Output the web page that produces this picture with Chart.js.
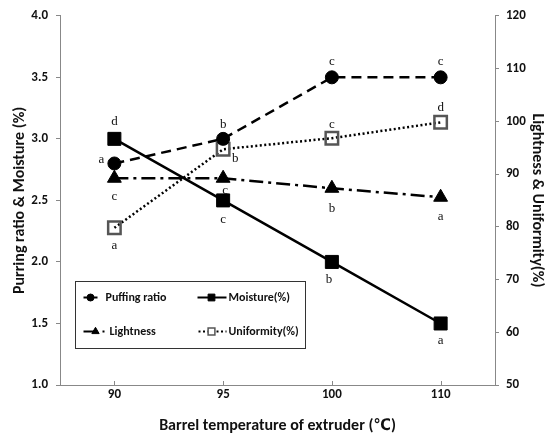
<!DOCTYPE html>
<html>
<head>
<meta charset="utf-8">
<script src="https://cdn.jsdelivr.net/npm/chart.js@4.4.1/dist/chart.umd.min.js"></script>
<style>
html,body{margin:0;padding:0;background:#fff;}
#wrap{width:556px;height:436px;}
</style>
</head>
<body>
<div id="wrap"><canvas id="c" width="556" height="436"></canvas></div>
<script>
// ---- data ----
const categories = ['90', '95', '100', '110'];
const puffingRatio = [2.8, 3.0, 3.5, 3.5];
const moisture = [3.0, 2.5, 2.0, 1.5];
const lightness = [89.2, 89.2, 87.3, 85.6];
const uniformity = [79.8, 94.7, 96.8, 99.8];
const puffingLetters = ['a', 'b', 'c', 'c'];
const moistureLetters = ['d', 'c', 'b', 'a'];
const lightnessLetters = ['c', 'c', 'b', 'a'];
const uniformityLetters = ['a', 'b', 'c', 'd'];
const seriesNames = ['Puffing ratio', 'Moisture(%)', 'Lightness', 'Uniformity(%)'];
const leftTitle = 'Purring ratio & Moisture (%)';
const rightTitle = 'Lightness & Uniformity(%)';
const xTitle = 'Barrel temperature of extruder (\u2103)';

// ---- styles / layout ----
const FONT = "Carlito, 'Liberation Sans Narrow', 'DejaVu Sans Condensed', 'Noto Sans CJK KR', sans-serif";
const letterOffsets = [
  [[-13,-4],[0,-14],[0,-16],[0,-16]],
  [[0,-17],[0,19],[-3,18],[0,17]],
  [[0,18],[2,12],[0,20],[0,19]],
  [[0,18],[12,9],[0,-14],[0,-15]]
];
const allLetters = [puffingLetters, moistureLetters, lightnessLetters, uniformityLetters];

const letterPlugin = {
  id: 'letters',
  afterDatasetsDraw(chart) {
    const ctx = chart.ctx;
    ctx.save();
    ctx.font = "13px 'Liberation Serif', serif";
    ctx.fillStyle = '#111';
    ctx.textAlign = 'center';
    ctx.textBaseline = 'middle';
    chart.data.datasets.forEach((ds, di) => {
      const meta = chart.getDatasetMeta(di);
      meta.data.forEach((pt, i) => {
        const o = letterOffsets[di][i];
        ctx.fillText(allLetters[di][i], pt.x + o[0], pt.y + o[1]);
      });
    });
    ctx.restore();
  }
};

const axisTickPlugin = {
  id: 'xticks',
  afterDraw(chart) {
    const x = chart.scales.x;
    const ctx = chart.ctx;
    ctx.save();
    ctx.strokeStyle = '#888';
    ctx.lineWidth = 1;
    x.ticks.forEach((t, i) => {
      const px = Math.round(x.getPixelForTick(i)) + 0.5;
      ctx.beginPath();
      ctx.moveTo(px, x.top);
      ctx.lineTo(px, x.top - 4);
      ctx.stroke();
    });
    ctx.restore();
  }
};

const legendPlugin = {
  id: 'customLegend',
  afterDraw(chart) {
    const ctx = chart.ctx;
    const area = chart.chartArea;
    const bx = area.left + 15.5, by = area.bottom - 103.5, bw = 230, bh = 67;
    ctx.save();
    ctx.fillStyle = '#fff';
    ctx.fillRect(bx, by, bw, bh);
    ctx.strokeStyle = '#333';
    ctx.lineWidth = 1;
    ctx.strokeRect(bx, by, bw, bh);
    const rows = [by + 16, by + 50];
    const cols = [bx + 8, bx + 122];
    const ds = chart.data.datasets;
    const entries = [
      {c: 0, r: 0, i: 0}, {c: 1, r: 0, i: 1}, {c: 0, r: 1, i: 2}, {c: 1, r: 1, i: 3}
    ];
    entries.forEach(e => {
      const d = ds[e.i];
      const x0 = cols[e.c], y = rows[e.r];
      ctx.strokeStyle = '#000';
      ctx.lineWidth = 2;
      ctx.beginPath();
      if (e.i === 3) {
        ctx.setLineDash([2, 2.5]);
        ctx.moveTo(x0 + 1, y); ctx.lineTo(x0 + 29, y);
      } else if (e.i === 2) {
        ctx.moveTo(x0, y); ctx.lineTo(x0 + 12, y);
      } else {
        ctx.moveTo(x0, y); ctx.lineTo(x0 + (e.c === 0 ? 14 : 29), y);
      }
      ctx.stroke();
      ctx.setLineDash([]);
      if (e.i === 2) {
        ctx.fillStyle = '#000';
        ctx.fillRect(x0 + 19, y - 1, 2, 2);
      }
      const mx = e.i === 2 ? x0 + 12 : x0 + (e.c === 0 ? 7 : 14);
      ctx.fillStyle = d.pointBackgroundColor;
      ctx.strokeStyle = d.pointBorderColor;
      ctx.lineWidth = e.i === 3 ? 1.5 : 1;
      ctx.beginPath();
      if (d.pointStyle === 'circle') { ctx.arc(mx, y, 3.5, 0, Math.PI * 2); }
      else if (d.pointStyle === 'rect') { const s = 3.4; ctx.rect(mx - s, y - s, 2 * s, 2 * s); }
      else if (d.pointStyle === 'triangle') { const r = 4.2; ctx.moveTo(mx, y - r); ctx.lineTo(mx + r * 0.866, y + r / 2); ctx.lineTo(mx - r * 0.866, y + r / 2); ctx.closePath(); }
      if (e.i === 3) { ctx.fillStyle = '#fff'; }
      ctx.fill();
      ctx.stroke();
      ctx.fillStyle = '#111';
      ctx.font = 'bold 12px ' + FONT;
      ctx.textAlign = 'left';
      ctx.textBaseline = 'middle';
      const tx = e.c === 0 ? (e.i === 2 ? x0 + 26 : x0 + 22) : x0 + 31;
      ctx.fillText(seriesNames[e.i], tx, y);
    });
    ctx.restore();
  }
};

new Chart(document.getElementById('c'), {
  type: 'line',
  data: {
    labels: categories,
    datasets: [
      {
        label: seriesNames[0], data: puffingRatio, yAxisID: 'yL',
        borderColor: '#000', borderWidth: 2.5, borderDash: [10, 6],
        pointStyle: 'circle', pointRadius: 6.5, pointBackgroundColor: '#000', pointBorderColor: '#000', pointBorderWidth: 1
      },
      {
        label: seriesNames[1], data: moisture, yAxisID: 'yL',
        borderColor: '#000', borderWidth: 2.5,
        pointStyle: 'rect', pointRadius: 9.2, pointBackgroundColor: '#000', pointBorderColor: '#000', pointBorderWidth: 1
      },
      {
        label: seriesNames[2], data: lightness, yAxisID: 'yR',
        borderColor: '#000', borderWidth: 2.5, borderDash: [14, 5, 3, 5],
        pointStyle: 'triangle', pointRadius: 8, pointBackgroundColor: '#000', pointBorderColor: '#000', pointBorderWidth: 1
      },
      {
        label: seriesNames[3], data: uniformity, yAxisID: 'yR',
        borderColor: '#000', borderWidth: 2.5, borderDash: [2, 2.5],
        pointStyle: 'rect', pointRadius: 8.8, pointBackgroundColor: 'rgba(255,255,255,0)', pointBorderColor: '#555', pointBorderWidth: 2.5
      }
    ]
  },
  options: {
    responsive: false,
    animation: false,
    layout: { padding: { top: 14, left: 0, right: 0, bottom: 0 } },
    plugins: { legend: { display: false }, tooltip: { enabled: false } },
    elements: { line: { tension: 0, fill: false } },
    scales: {
      x: {
        type: 'category', offset: true,
        grid: { display: false, drawTicks: false },
        border: { display: true, color: '#888', width: 1 },
        ticks: { color: '#111', font: { family: FONT, size: 13, weight: 'bold' }, padding: 2 },
        title: { display: true, text: xTitle, color: '#111', font: { family: FONT, size: 16, weight: 'bold' }, padding: { top: 4, bottom: 0 } },
        afterFit(s) { s.height = 51; }
      },
      yL: {
        position: 'left', min: 1, max: 4,
        grid: { display: true, drawOnChartArea: false, drawTicks: true, tickLength: 4, color: '#888' },
        border: { display: true, color: '#888', width: 1 },
        ticks: { stepSize: 0.5, color: '#111', padding: 8, font: { family: FONT, size: 13, weight: 'bold' }, callback: v => Number(v).toFixed(1) },
        title: { display: true, text: leftTitle, color: '#111', font: { family: FONT, size: 16, weight: 'bold' }, padding: { top: 10, bottom: 0 } },
        afterFit(s) { s.width = 60; }
      },
      yR: {
        position: 'right', min: 50, max: 120,
        grid: { display: true, drawOnChartArea: false, drawTicks: true, tickLength: 4, color: '#888' },
        border: { display: true, color: '#888', width: 1 },
        ticks: { stepSize: 10, color: '#111', padding: 7, font: { family: FONT, size: 13, weight: 'bold' } },
        title: { display: true, text: rightTitle, color: '#111', font: { family: FONT, size: 16, weight: 'bold' }, padding: { top: 9, bottom: 0 } },
        afterFit(s) { s.width = 61; }
      }
    }
  },
  plugins: [letterPlugin, axisTickPlugin, legendPlugin]
});
</script>
</body>
</html>
